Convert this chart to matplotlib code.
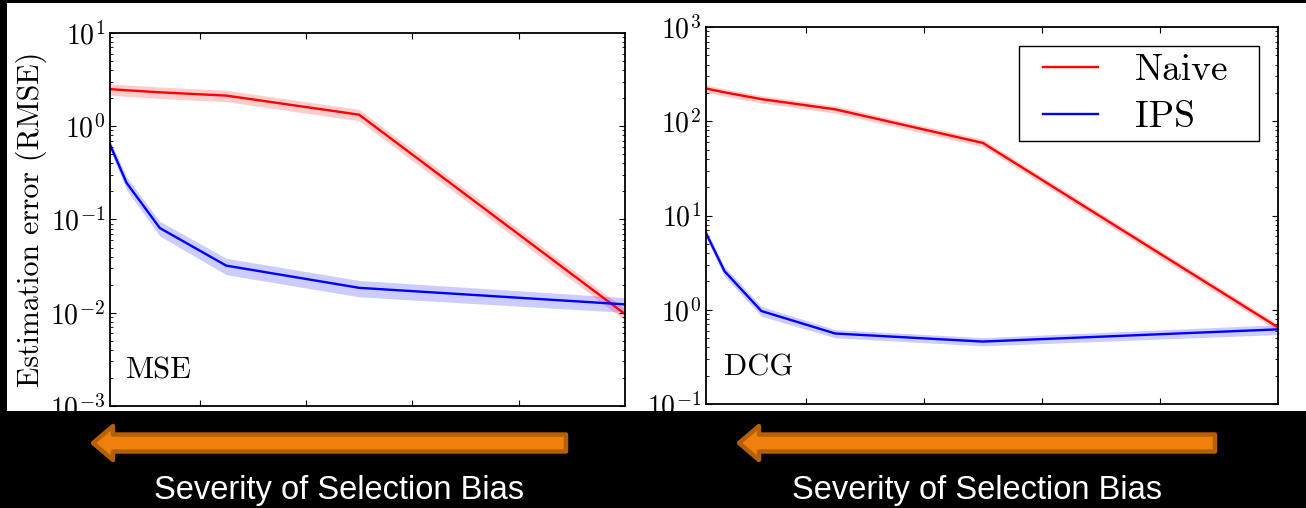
import numpy as np
import matplotlib
matplotlib.use("Agg")
import matplotlib.pyplot as plt
from matplotlib.patches import Rectangle, FancyArrow
from matplotlib.legend_handler import HandlerLine2D

plt.rcParams['font.family'] = ['cmr10', 'DejaVu Serif']
plt.rcParams['mathtext.fontset'] = 'cm'
plt.rcParams['axes.formatter.use_mathtext'] = True

# ---- data ----
alpha = [0.03125, 0.0625, 0.125, 0.25, 0.5, 1.0]

naive_mse = [2.5, 2.43, 2.31, 2.13, 1.33, 0.0097]
ips_mse = [0.635, 0.247, 0.081, 0.032, 0.0185, 0.0123]
naive_mse_err = [0.14, 0.14, 0.14, 0.14, 0.14, 0.14]
ips_mse_err = [0.12, 0.16, 0.18, 0.2, 0.2, 0.18]

naive_dcg = [223, 203, 172, 134, 59, 0.65]
ips_dcg = [6.5, 2.57, 0.97, 0.56, 0.46, 0.62]
naive_dcg_err = [0.09, 0.09, 0.09, 0.09, 0.09, 0.09]
ips_dcg_err = [0.1, 0.12, 0.12, 0.1, 0.1, 0.12]

bottom_text = "Severity of Selection Bias"

fig = plt.figure(figsize=(13.06, 5.08), dpi=100, facecolor='black')

# overlay in pixel coords for the slide background, arrows and captions
bg = fig.add_axes([0, 0, 1, 1], zorder=0)
bg.set_xlim(0, 1306)
bg.set_ylim(508, 0)
bg.axis('off')
bg.add_patch(Rectangle((7, 3), 1299, 408, facecolor='white', edgecolor='none'))
for x_start, x_tip in [(566, 93), (1215, 739)]:
    bg.add_patch(FancyArrow(x_start, 443, x_tip - x_start, 0, width=17, head_width=34,
                            head_length=20, length_includes_head=True,
                            facecolor='#F0800C', edgecolor='#B4600A', lw=3.2,
                            joinstyle='round'))
for xc in [339, 977]:
    bg.text(xc, 499, bottom_text, color='white', fontsize=23.5, family='Liberation Sans',
            ha='center', va='baseline')


def panel(rect, naive, ips, naive_err, ips_err, ylim, tag):
    ax = fig.add_axes(rect, zorder=1)
    ax.set_facecolor('white')
    ax.set_yscale('log')
    n = np.array(naive)
    p = np.array(ips)
    ax.fill_between(alpha, n * (1 - np.array(naive_err)), n * (1 + np.array(naive_err)),
                    color='red', alpha=0.2, lw=0)
    ax.fill_between(alpha, p * (1 - np.array(ips_err)), p * (1 + np.array(ips_err)),
                    color='blue', alpha=0.2, lw=0)
    ax.plot(alpha, naive, color='red', lw=1.7, label='Naive')
    ax.plot(alpha, ips, color='blue', lw=1.7, label='IPS')
    ax.set_xlim(alpha[0], alpha[-1])
    ax.set_ylim(*ylim)
    ax.set_xticks([0.2, 0.4, 0.6, 0.8])
    ax.tick_params(which='both', direction='in', top=True, right=True, labelbottom=False,
                   labelsize=20)
    ax.tick_params(which='major', length=4, width=0.8)
    ax.tick_params(which='minor', length=2, width=0.6)
    for s in ax.spines.values():
        s.set_linewidth(1.3)
    ax.text(0.031, 0.075, tag, transform=ax.transAxes, fontsize=22)
    return ax


ax1 = panel([0.0842, 0.2008, 0.3943, 0.7343], naive_mse, ips_mse, naive_mse_err, ips_mse_err,
            (1e-3, 1e1), 'MSE')
ax1.set_ylabel('Estimation error (RMSE)', fontsize=21.5, labelpad=2)

ax2 = panel([0.5406, 0.2047, 0.4380, 0.7420], naive_dcg, ips_dcg, naive_dcg_err, ips_dcg_err,
            (1e-1, 1e3), 'DCG')
# expand mode: box spans the given width, entries stay at the left
leg = ax2.legend(loc='upper left', mode='expand', fontsize=27, fancybox=False, framealpha=1,
                 edgecolor='black', handlelength=1.9, handletextpad=1.0,
                 borderpad=0.2, labelspacing=0.37, borderaxespad=0,
                 bbox_to_anchor=(0.547, 0.5, 0.42, 0.4496),
                 handler_map={plt.Line2D: HandlerLine2D(xpad=0.45)})
leg.get_frame().set_linewidth(1.0)

fig.savefig('out.png', dpi=100, facecolor='black')
